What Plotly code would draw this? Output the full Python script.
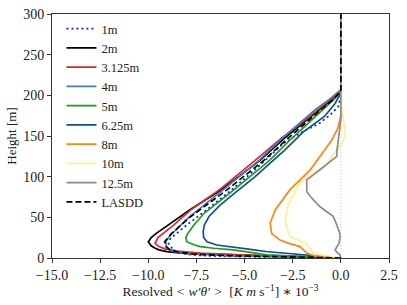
import plotly.graph_objects as go

# ---- data (height [m], resolved flux x 1e-3) ----
h_1m = [0, 0.5, 1, 1.5, 2, 3, 4, 6, 9, 13, 18, 24, 30, 40.6, 61, 84, 112, 141, 155, 166, 176, 186, 200, 300]
x_1m = [0, -2.0, -3.5, -5.0, -6.0, -7.2, -7.8, -8.3, -8.6, -8.8, -8.95, -8.85, -8.55, -8.0, -6.87, -5.66, -4.3, -2.98, -2.0, -1.08, -0.55, -0.14, 0, 0]

h_2m = [0, 1, 2, 3, 3.7, 4.9, 6, 7.8, 10, 12, 15, 20, 25, 30, 40, 60, 84, 120, 146, 165, 182, 195, 205, 300]
x_2m = [0, -1.0, -3.0, -4.6, -5.75, -7.3, -8.3, -9.03, -9.45, -9.64, -9.85, -10.0, -9.85, -9.6, -9.0, -7.8, -6.2, -4.2, -3.0, -2.0, -1.1, -0.45, 0, 0]

h_3125m = [0, 1, 2, 3, 4, 5, 6, 8.6, 11, 14, 18, 25, 40, 60, 84, 125, 146, 165, 182, 195, 205, 300]
x_3125m = [0, -1.0, -2.8, -4.3, -5.5, -6.5, -7.3, -8.5, -9.1, -9.45, -9.65, -9.5, -8.7, -7.75, -6.3, -4.2, -3.15, -2.1, -1.2, -0.5, 0, 0]

h_4m = [0, 1, 2, 3, 4, 5, 7, 10, 14, 20, 28, 50, 84, 120, 146, 165, 182, 195, 207, 300]
x_4m = [0, -2.3, -4.3, -5.9, -7.0, -7.8, -8.5, -8.9, -9.05, -9.1, -8.85, -7.9, -6.1, -4.25, -3.1, -2.2, -1.35, -0.6, 0, 0]

h_5m = [0, 1, 2, 4, 7, 10, 12, 14, 16, 20, 25, 30, 40, 55, 80, 120, 146, 165, 182, 195, 205, 300]
x_5m = [0, -1.0, -2.0, -3.85, -4.7, -5.6, -6.6, -7.3, -7.6, -8.0, -8.05, -7.95, -7.65, -7.1, -5.75, -3.7, -2.6, -1.75, -0.95, -0.35, 0, 0]

h_625m = [0, 2, 4, 6, 8, 10.7, 13, 16, 20, 25, 32, 40, 51, 65, 80, 100, 133, 155, 174, 190, 203, 300]
x_625m = [0, -1.0, -2.0, -3.0, -3.9, -4.7, -5.6, -6.44, -6.95, -7.12, -7.15, -7.1, -6.85, -6.27, -5.5, -4.45, -2.9, -1.95, -0.85, -0.3, 0, 0]

h_8m = [0, 1.5, 3, 6, 10, 14, 18, 22, 30, 43, 59, 84, 108, 133, 145, 160, 175, 300]
x_8m = [0, -0.7, -1.43, -1.77, -1.95, -2.12, -2.7, -3.16, -3.59, -3.67, -3.41, -2.64, -1.6, -0.82, -0.47, -0.15, 0, 0]

h_10m = [0, 1.5, 3, 5, 8, 18, 26, 45, 67, 92, 116, 133, 141, 150, 158, 170, 180, 190, 300]
x_10m = [0, -0.3, -0.8, -1.3, -1.51, -1.77, -2.64, -2.9, -2.72, -2.12, -0.73, -0.21, 0.05, 0.2, 0.22, 0.13, 0.05, 0, 0]

h_125m = [0, 4, 7, 10, 14, 18, 24, 30, 40, 51, 63, 72, 81.5, 96, 110, 125, 133, 149, 170, 300]
x_125m = [0, -0.05, -0.2, -0.3, -0.2, -0.1, -0.05, -0.05, -0.2, -0.39, -1.08, -1.45, -1.77, -1.77, -1.0, -0.21, -0.2, -0.13, 0, 0]

h_lasdd = [0, 1, 2, 3, 4, 5, 7, 10, 14, 20, 30, 50, 84, 120, 146, 165, 182, 195, 205, 300]
x_lasdd = [0, -2.5, -4.5, -6.0, -7.0, -7.7, -8.4, -8.85, -9.1, -9.15, -8.8, -7.85, -5.9, -4.0, -2.8, -1.9, -1.05, -0.4, 0, 0]

zero_h = [0, 300]
zero_x = [0, 0]

x_ticks = [-15.0, -12.5, -10.0, -7.5, -5.0, -2.5, 0.0, 2.5]
y_ticks = [0, 50, 100, 150, 200, 250, 300]

series = [
    ("1m", x_1m, h_1m, "#1a1acd", "2px,3px"),
    ("2m", x_2m, h_2m, "#000000", "solid"),
    ("3.125m", x_3125m, h_3125m, "#e3262b", "solid"),
    ("4m", x_4m, h_4m, "#3b80c0", "solid"),
    ("5m", x_5m, h_5m, "#1f9a1f", "solid"),
    ("6.25m", x_625m, h_625m, "#0d4f9a", "solid"),
    ("8m", x_8m, h_8m, "#ff8412", "solid"),
    ("10m", x_10m, h_10m, "#fff08a", "solid"),
    ("12.5m", x_125m, h_125m, "#8c8c8c", "solid"),
    ("LASDD", x_lasdd, h_lasdd, "#000000", "6px,3px"),
]

fig = go.Figure()
fig.add_trace(go.Scatter(x=zero_x, y=zero_h, mode="lines", showlegend=False,
                         line=dict(color="#9ecae1", width=1, dash="1px,2px")))
for name, xs, hs, col, dash in series:
    fig.add_trace(go.Scatter(x=xs, y=hs, mode="lines", name=name,
                             line=dict(color=col, width=1.7, dash=dash)))

font_family = "Liberation Serif, DejaVu Serif, serif"
fig.update_layout(
    width=407, height=305,
    margin=dict(l=52, r=18, t=14, b=47, autoexpand=False),
    paper_bgcolor="white", plot_bgcolor="white",
    font=dict(family=font_family, size=13, color="#222"),
    showlegend=True,
    legend=dict(x=0.028, y=1.0, xanchor="left", yanchor="top",
                bgcolor="rgba(255,255,255,0)", font=dict(size=12.5, family=font_family),
                tracegroupgap=0, itemwidth=30),
    xaxis=dict(range=[-15, 2.5], tickvals=x_ticks, automargin=False,
               ticktext=[f"{v:.1f}".replace("-", "\u2212") for v in x_ticks],
               ticks="outside", ticklen=4, tickcolor="#333",
               showline=True, linecolor="#333", linewidth=1, mirror=True,
               showgrid=False, zeroline=False, tickfont=dict(size=14),
               title=dict(text="Resolved <i>&lt; w\u2032\u03b8\u2032 &gt;</i>  [<i>K m</i> s<sup>\u22121</sup>] \u2217 10<sup>\u22123</sup>",
                          font=dict(size=13.5), standoff=2)),
    yaxis=dict(range=[0, 300], tickvals=y_ticks, automargin=False,
               ticks="outside", ticklen=4, tickcolor="#333",
               showline=True, linecolor="#333", linewidth=1, mirror=True,
               showgrid=False, zeroline=False, tickfont=dict(size=14),
               title=dict(text="Height [m]", font=dict(size=13), standoff=3)),
)

fig.write_html("out.html", config={"displayModeBar": False},
               post_script="document.body.style.margin='0';")
